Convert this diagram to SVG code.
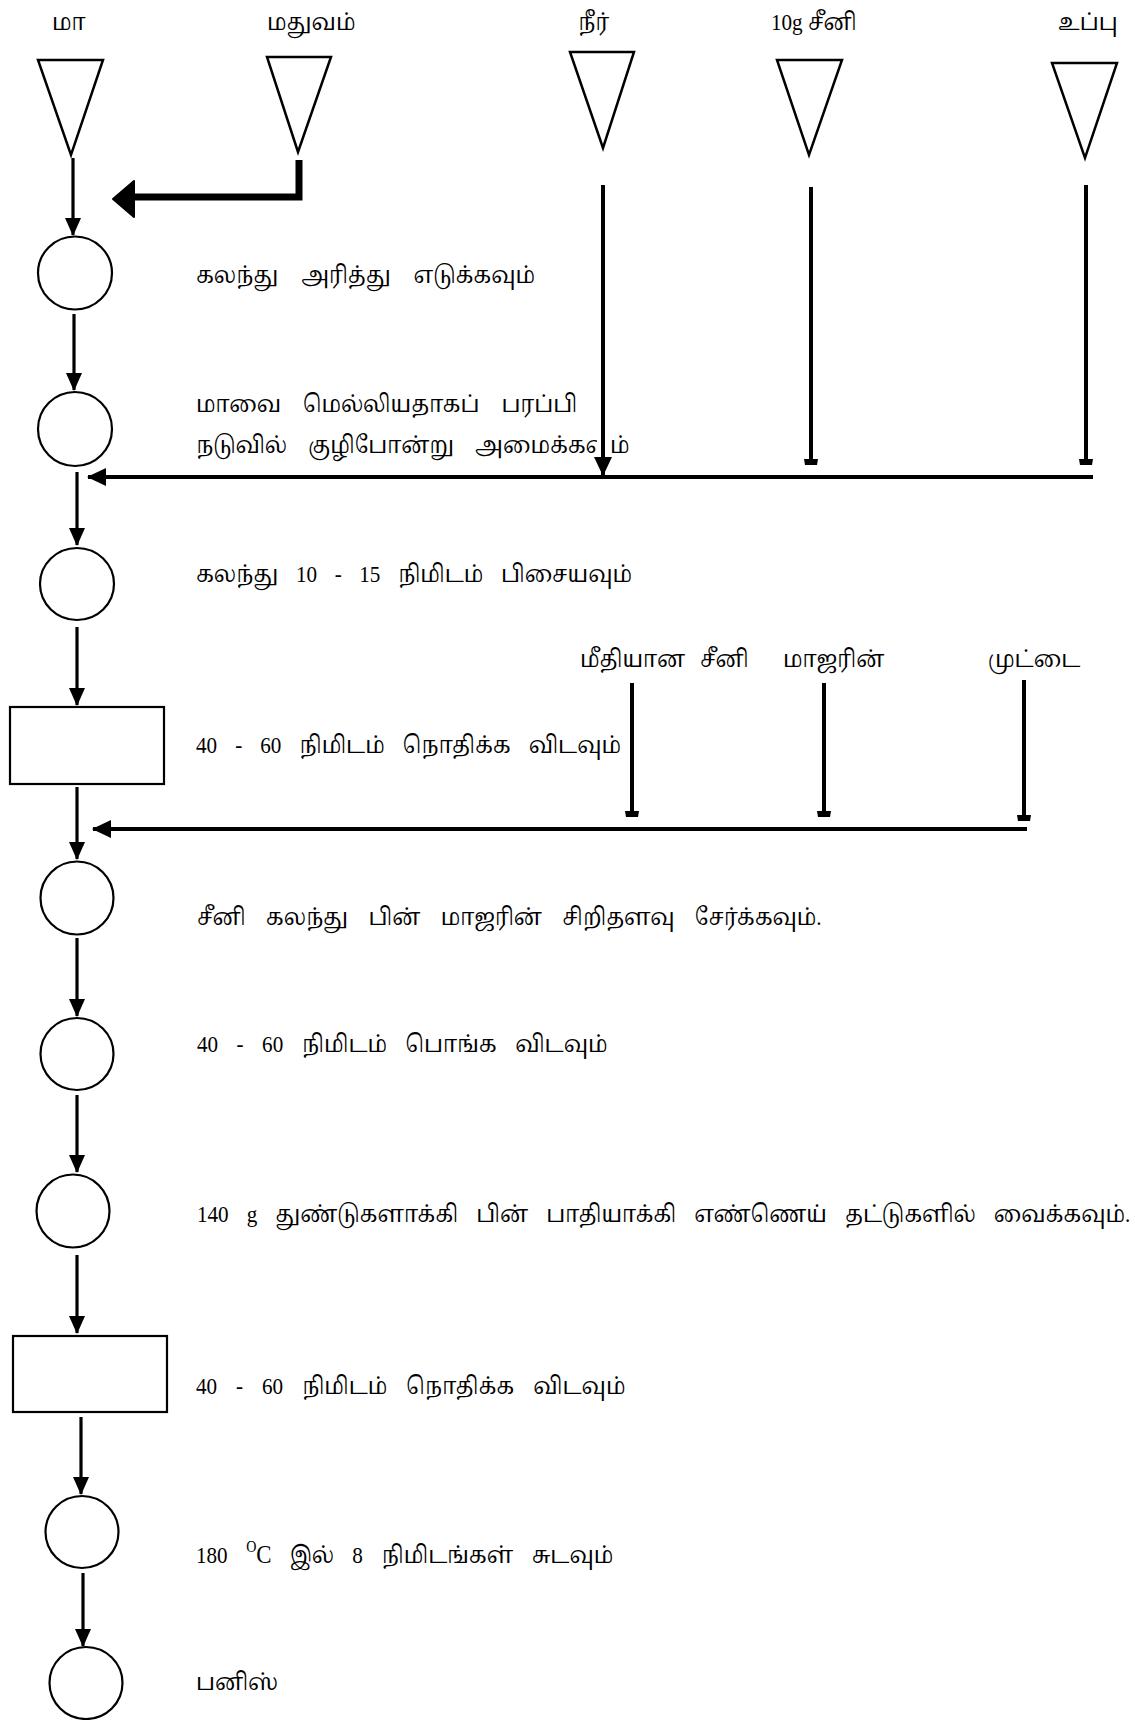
<svg xmlns="http://www.w3.org/2000/svg" width="1135" height="1720" viewBox="0 0 1135 1720">
<style>
.t{font-family:'Liberation Serif','Noto Serif Tamil','Noto Sans Tamil',serif;font-size:24px;fill:#000}
.tri{fill:#fff;stroke:#000;stroke-width:2.5;stroke-linejoin:miter}
.c{fill:#fff;stroke:#000;stroke-width:2.2}
.ln{fill:none;stroke:#000;stroke-width:3.2}
.fl{fill:none;stroke:#000;stroke-width:4}
</style>
<defs>
<marker id="ah" markerUnits="userSpaceOnUse" markerWidth="20" markerHeight="20" viewBox="-18 -10 20 20" refX="0" refY="0" orient="auto" overflow="visible">
<path d="M-17,-8 L1,0 L-17,8 Z" fill="#000"/>
</marker>
<marker id="ah2" markerUnits="userSpaceOnUse" markerWidth="22" markerHeight="22" viewBox="-20 -11 22 22" refX="0" refY="0" orient="auto" overflow="visible">
<path d="M-18,-9 L1,0 L-18,9 Z" fill="#000"/>
</marker>
<marker id="ft" markerUnits="userSpaceOnUse" markerWidth="10" markerHeight="20" viewBox="-8 -10 10 20" refX="0" refY="0" orient="auto" overflow="visible">
<path d="M-6,-7 L0,-6 L0,6 L-6,7 Z" fill="#000"/>
</marker>
</defs>

<g id="labels-top">
<text class="t" transform="translate(52,30) scale(0.88,1)">மா</text>
<text class="t" transform="translate(267,30) scale(0.88,1)">மதுவம்</text>
<text class="t" transform="translate(578,30) scale(0.88,1)">நீர்</text>
<text class="t" transform="translate(771,30) scale(0.88,1)">10g சீனி</text>
<text class="t" transform="translate(1058,30) scale(0.88,1)">உப்பு</text>
</g>

<g id="src-ma"><polygon class="tri" points="38,60 103,60 71,155"/></g>
<g id="src-mathuvam"><polygon class="tri" points="267,57 331,57 298,152"/></g>
<g id="src-neer"><polygon class="tri" points="570,52 634,52 603,148"/></g>
<g id="src-seeni"><polygon class="tri" points="777,60 842,60 809,155"/></g>
<g id="src-uppu"><polygon class="tri" points="1052,63 1117,63 1085,158"/></g>

<g id="n1"><ellipse class="c" cx="75" cy="273" rx="37" ry="36.5"/>
<text class="t" transform="translate(196,283) scale(0.88,1)" word-spacing="20">கலந்து அரித்து எடுக்கவும்</text></g>
<g id="n2"><ellipse class="c" cx="75" cy="429" rx="37" ry="37"/>
<text class="t" transform="translate(196,412) scale(0.88,1)" word-spacing="19">மாவை மெல்லியதாகப் பரப்பி</text>
<text class="t" transform="translate(196,453) scale(0.88,1)" word-spacing="18">நடுவில் குழிபோன்று அமைக்கவும்</text></g>
<g id="n3"><ellipse class="c" cx="77" cy="584" rx="37" ry="36"/>
<text class="t" transform="translate(196,582) scale(0.88,1)" word-spacing="14">கலந்து 10 - 15 நிமிடம் பிசையவும்</text></g>
<g id="n4"><rect class="c" x="10" y="707" width="154" height="77"/>
<text class="t" transform="translate(196,753) scale(0.88,1)" word-spacing="14.5">40 - 60 நிமிடம் நொதிக்க விடவும்</text></g>
<g id="labels-mid">
<text class="t" transform="translate(580,667) scale(0.88,1)" word-spacing="11">மீதியான சீனி</text>
<text class="t" transform="translate(783,667) scale(0.88,1)">மாஜரின்</text>
<text class="t" transform="translate(988,667) scale(0.88,1)">முட்டை</text>
</g>
<g id="n5"><ellipse class="c" cx="77" cy="898" rx="36.5" ry="36.5"/>
<text class="t" transform="translate(197,925) scale(0.88,1)" word-spacing="17">சீனி கலந்து பின் மாஜரின் சிறிதளவு சேர்க்கவும்.</text></g>
<g id="n6"><ellipse class="c" cx="77" cy="1054" rx="36.5" ry="36"/>
<text class="t" transform="translate(197,1052) scale(0.88,1)" word-spacing="15">40 - 60 நிமிடம் பொங்க விடவும்</text></g>
<g id="n7"><ellipse class="c" cx="73" cy="1211" rx="36.5" ry="36.5"/>
<text class="t" transform="translate(197,1222) scale(0.88,1)" word-spacing="14.5">140 g துண்டுகளாக்கி பின் பாதியாக்கி எண்ணெய் தட்டுகளில் வைக்கவும்.</text></g>
<g id="n8"><rect class="c" x="13" y="1336" width="154" height="76"/>
<text class="t" transform="translate(196,1394) scale(0.88,1)" word-spacing="15.5">40 - 60 நிமிடம் நொதிக்க விடவும்</text></g>
<g id="n9"><ellipse class="c" cx="82" cy="1532" rx="36.5" ry="36"/>
<text class="t" transform="translate(196,1563) scale(0.88,1)" word-spacing="15">180 <tspan font-size="16" dy="-11">O</tspan><tspan dy="11" font-size="26">C</tspan> இல் 8 நிமிடங்கள் சுடவும்</text></g>
<g id="n10"><ellipse class="c" cx="86" cy="1683" rx="36.5" ry="36"/>
<text class="t" transform="translate(196,1690) scale(0.88,1)">பனிஸ்</text></g>

<g id="connectors">
<line class="ln" x1="73" y1="158" x2="73" y2="235" marker-end="url(#ah)"/>
<line class="ln" x1="74" y1="314" x2="74" y2="390" marker-end="url(#ah)"/>
<line class="ln" x1="77" y1="472" x2="77" y2="545" marker-end="url(#ah)"/>
<line class="ln" x1="77" y1="627" x2="77" y2="705" marker-end="url(#ah)"/>
<line class="ln" x1="77" y1="787" x2="77" y2="859" marker-end="url(#ah)"/>
<line class="ln" x1="77" y1="938" x2="77" y2="1016" marker-end="url(#ah)"/>
<line class="ln" x1="77" y1="1095" x2="77" y2="1172" marker-end="url(#ah)"/>
<line class="ln" x1="77" y1="1255" x2="77" y2="1333" marker-end="url(#ah)"/>
<line class="ln" x1="81" y1="1417" x2="81" y2="1494" marker-end="url(#ah)"/>
<line class="ln" x1="83" y1="1573" x2="83" y2="1646" marker-end="url(#ah)"/>

<path d="M299,160 L299,197 L132,197" fill="none" stroke="#000" stroke-width="7"/>
<path d="M113,199 L134,181 L134,217 Z" fill="#000" stroke="#000" stroke-width="2" stroke-linejoin="round"/>

<line x1="603" y1="430" x2="603" y2="470" stroke="#fff" stroke-width="12"/>
<line class="fl" x1="603" y1="185" x2="603" y2="475" stroke-width="5" marker-end="url(#ah2)"/>
<line class="fl" x1="811" y1="187" x2="811" y2="465" marker-end="url(#ft)"/>
<line class="fl" x1="1086" y1="185" x2="1086" y2="465" marker-end="url(#ft)"/>
<line class="fl" x1="1093" y1="477" x2="88" y2="477" marker-end="url(#ah2)"/>

<line class="fl" x1="632" y1="683" x2="632" y2="817" marker-end="url(#ft)"/>
<line class="fl" x1="824" y1="683" x2="824" y2="817" marker-end="url(#ft)"/>
<line class="fl" x1="1024" y1="680" x2="1024" y2="821" marker-end="url(#ft)"/>
<line class="fl" x1="1027" y1="829" x2="93" y2="829" marker-end="url(#ah2)"/>
</g>
</svg>
